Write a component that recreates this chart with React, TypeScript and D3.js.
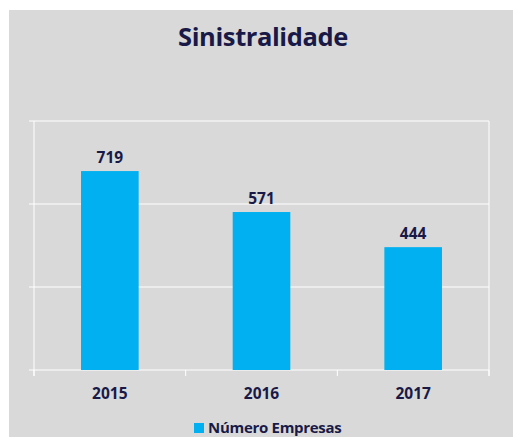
import React from "react";
import * as d3 from "d3";

const categories = ["2015", "2016", "2017"];
const values = [719, 571, 444];
const yTicks = [0, 300, 600, 900];
const seriesName = "Número Empresas";
const title = "Sinistralidade";

const W = 513;
const H = 437;
const left = 34;
const right = 489;
const top = 121;
const bottom = 370;
const textColor = "#191947";
const barColor = "#00B0F0";
const bg = "#D9D9D9";
const font = "'Open Sans', sans-serif";

export default function App() {
  const x = d3
    .scaleBand<string>()
    .domain(categories)
    .range([left, right])
    .paddingInner(0.62)
    .paddingOuter(0.31);
  const xc = d3.scaleBand<string>().domain(categories).range([left, right]).padding(0);
  const y = d3.scaleLinear().domain([0, 900]).range([bottom, top]);

  const boundaries = [left, ...categories.map((c) => (xc(c) as number) + xc.bandwidth())];

  return (
    <div style={{ position: "absolute", left: 0, top: 0 }}>
      <svg width={W} height={H} style={{ display: "block" }}>
        <rect x={9} y={10} width={W - 9} height={H - 10} fill={bg} />
        <text
          x={263}
          y={46}
          textAnchor="middle"
          fontFamily={font}
          fontWeight={700}
          fontSize={25.5}
          letterSpacing={-0.4}
          fill={textColor}
        >
          {title}
        </text>
        {yTicks.map((t) => (
          <line
            key={"g" + t}
            x1={left - 5}
            x2={right}
            y1={y(t)}
            y2={y(t)}
            stroke="#fff"
            strokeWidth={1}
          />
        ))}
        <line x1={left} x2={left} y1={top} y2={bottom + 6} stroke="#fff" strokeWidth={1} />
        <line x1={right} x2={right} y1={top} y2={bottom + 6} stroke="#fff" strokeWidth={1} />
        {boundaries.map((b, i) => (
          <line key={"t" + i} x1={b} x2={b} y1={bottom} y2={bottom + 6} stroke="#fff" strokeWidth={1} />
        ))}
        {categories.map((c, i) => (
          <g key={c}>
            <rect
              x={x(c)}
              y={y(values[i])}
              width={x.bandwidth()}
              height={bottom - y(values[i])}
              fill={barColor}
            />
            <text
              x={(x(c) as number) + x.bandwidth() / 2}
              y={y(values[i]) - 8}
              textAnchor="middle"
              fontFamily={font}
              fontWeight={700}
              fontSize={15.5}
              fill={textColor}
            >
              {values[i]}
            </text>
            <text
              x={(x(c) as number) + x.bandwidth() / 2}
              y={399}
              textAnchor="middle"
              fontFamily={font}
              fontWeight={700}
              fontSize={15.5}
              fill={textColor}
            >
              {c}
            </text>
          </g>
        ))}
        <rect x={194} y={423} width={10} height={10} fill={barColor} />
        <text x={208} y={432.5} fontFamily={font} fontWeight={700} fontSize={15} letterSpacing={-0.3} fill={textColor}>
          {seriesName}
        </text>
      </svg>
    </div>
  );
}
